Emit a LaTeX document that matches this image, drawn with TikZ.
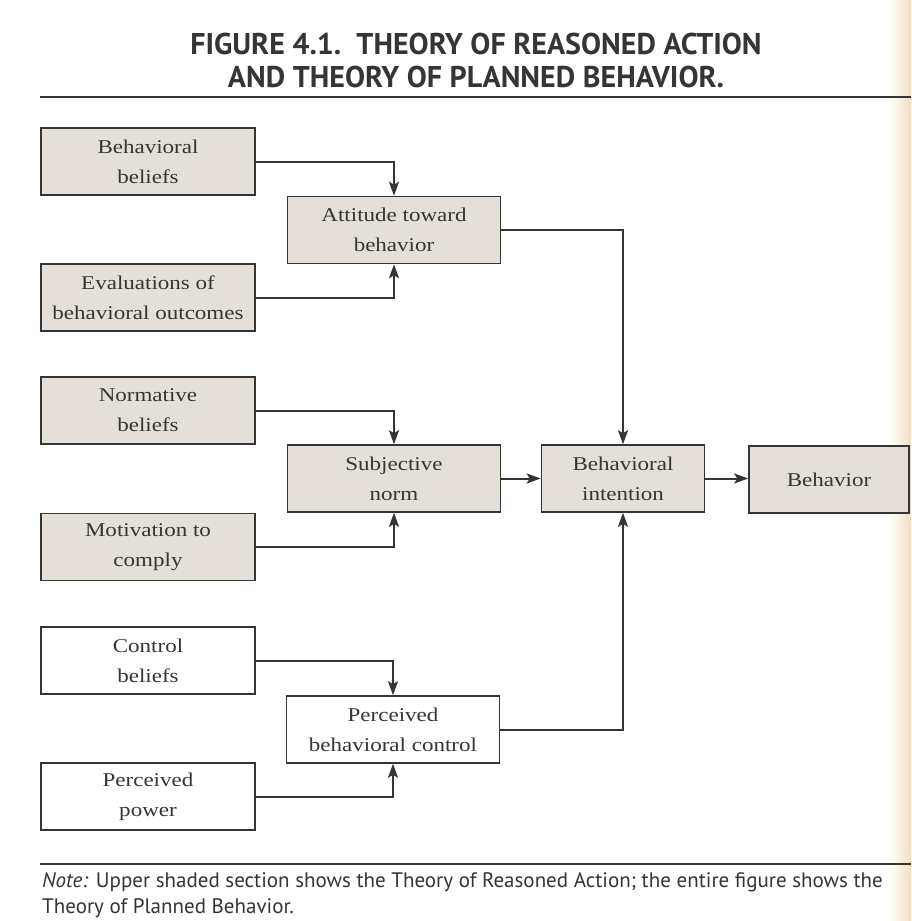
\documentclass[tikz,border=0pt]{standalone}
\usepackage{fontspec}
\usetikzlibrary{arrows.meta}
\newfontfamily\headfont{PT Sans}
\newfontfamily\notefont{PT Sans}
\newfontfamily\boxfont[FakeStretch=1.18]{Liberation Serif}
\definecolor{ink}{HTML}{353535}
\definecolor{boxshade}{HTML}{E4E0D9}
\definecolor{pageedge}{HTML}{F2E0BE}
\begin{document}
\begin{tikzpicture}[x=1pt,y=-1pt,
  box/.style={draw=ink, line width=1.6pt, minimum width=214pt, minimum height=67pt,
    align=center, inner sep=0pt, text=ink, font=\boxfont\fontsize{19.5}{30}\selectfont},
  tra/.style={box, fill=boxshade},
  midbox/.style={minimum width=213pt},
  link/.style={draw=ink, line width=2pt, -{Stealth[length=14pt,width=10pt,inset=3pt]}},
  rule/.style={draw=ink, line width=1.8pt}]
  % page
  \fill[white] (0,0) rectangle (911,921);
  \shade[left color=white, right color=pageedge] (889,0) rectangle (911,921);
  \useasboundingbox (0,0) rectangle (911,921);

  % heading
  \node[anchor=base, text=ink, font=\headfont\bfseries\fontsize{30}{34}\selectfont] (t1) at (476,54)
    {FIGURE 4.1.\ \ THEORY OF REASONED ACTION};
  \node[anchor=base, text=ink, font=\headfont\bfseries\fontsize{30}{34}\selectfont] (t2) at (476,87)
    {AND THEORY OF PLANNED BEHAVIOR.};
  \coordinate (r1a) at (40,97);
  \coordinate (r1b) at (911,97);
  \draw[rule] (r1a) -- (r1b);

  % attitude block
  \node[tra] (bb) at (148,161.5) {Behavioral\\beliefs};
  \node[tra, midbox] (att) at (394,230) {Attitude toward\\behavior};
  \node[tra] (ev) at (148,297.5) {Evaluations of\\behavioral outcomes};

  % norm block
  \node[tra] (nb) at (148,410.5) {Normative\\beliefs};
  \node[tra, midbox] (sn) at (394,478.5) {Subjective\\norm};
  \node[tra] (mc) at (148,547) {Motivation to\\comply};

  % intention and behavior
  \node[tra, minimum width=163pt] (bi) at (623,478.5) {Behavioral\\intention};
  \node[tra, minimum width=160pt] (beh) at (829,479.5) {Behavior};

  % control block
  \node[box] (cb) at (148,660.5) {Control\\beliefs};
  \node[box, midbox] (pbc) at (393,729.5) {Perceived\\behavioral control};
  \node[box] (pp) at (148,796.5) {Perceived\\power};

  % connectors
  \draw[link] (bb.east) -| (att.north);
  \draw[link] (ev.east) -| (att.south);
  \draw[link] (nb.east) -| (sn.north);
  \draw[link] (mc.east) -| (sn.south);
  \draw[link] (cb.east) -| (pbc.north);
  \draw[link] (pp.east) -| (pbc.south);
  \draw[link] (att.east) -| (bi.north);
  \draw[link] (pbc.east) -| (bi.south);
  \draw[link] (sn.east) -- (bi.west);
  \draw[link] (bi.east) -- (beh.west |- bi.east);

  % note
  \coordinate (r2a) at (40,864);
  \coordinate (r2b) at (911,864);
  \draw[rule] (r2a) -- (r2b);
  \node[anchor=base west, inner sep=0pt, text=ink, font=\notefont\fontsize{21}{25}\selectfont] (n1) at (42,887)
    {\textit{Note:} Upper shaded section shows the Theory of Reasoned Action; the entire figure shows the};
  \node[anchor=base west, inner sep=0pt, text=ink, font=\notefont\fontsize{21}{25}\selectfont] (n2) at (42,913)
    {Theory of Planned Behavior.};
\end{tikzpicture}
\end{document}
